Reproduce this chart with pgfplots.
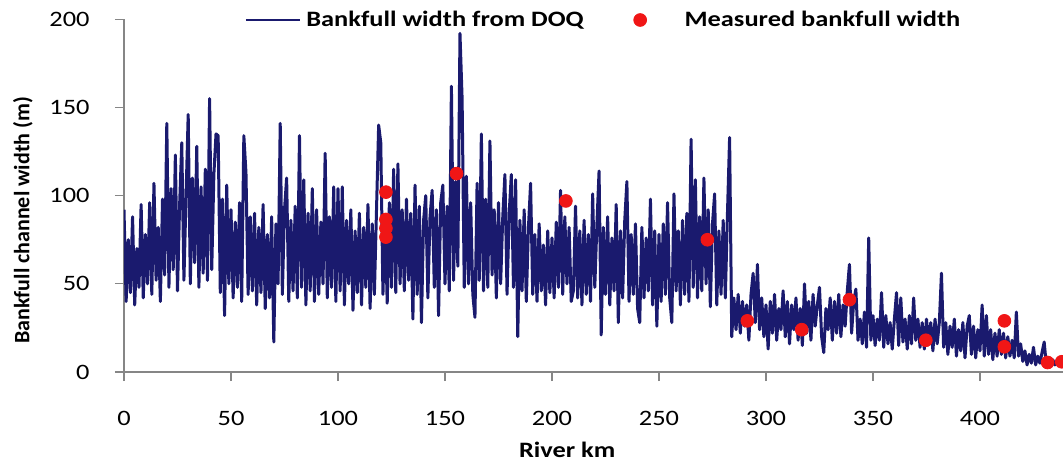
\documentclass[border=0pt]{standalone}
\usepackage{pgfplots}
\pgfplotsset{compat=1.18}
\usepackage{fontspec}
\setmainfont{Carlito}[FakeStretch=1.2]
\newfontfamily\ylabfont{Carlito}
\definecolor{navy}{RGB}{26,26,110}
\definecolor{dotred}{RGB}{240,22,22}
\definecolor{axgray}{RGB}{134,134,134}
\pgfplotsset{
  linelegend/.style={legend image code/.code={\draw[##1, line width=1.4pt] (0pt,0pt) -- (27pt,0pt);}},
  dotlegend/.style={legend image code/.code={\path (0pt,0pt) (27pt,0pt); \draw[##1] plot coordinates {(7.5pt,0pt)};}},
}
\begin{document}
\begin{tikzpicture}
\begin{axis}[
  scale only axis, width=469.5pt, height=176.35pt,
  xmin=0, xmax=438.8, ymin=0, ymax=200,
  axis x line=bottom, axis y line=left,
  axis line style={draw=axgray, line width=0.6pt, -},
  xtick={0,50,...,400}, ytick={0,50,...,200},
  tick align=outside, major tick length=4.5pt,
  tick style={draw=axgray, line width=0.6pt},
  /pgf/number format/assume math mode=true,
  ticklabel style={font=\fontsize{11}{13}\selectfont, inner sep=0pt},
  xticklabel style={anchor=north, yshift=-15pt},
  yticklabel style={anchor=east, xshift=-12.5pt},
  xlabel={River km}, ylabel={Bankfull channel width (m)},
  xlabel style={font=\bfseries\fontsize{11}{13}\selectfont, at={(rel axis cs:0.472,0)}, anchor=north, yshift=-35pt, inner sep=0pt},
  ylabel style={font=\ylabfont\bfseries\fontsize{11}{13}\selectfont, at={(rel axis cs:-0.1076,0.43)}, anchor=center, inner sep=0pt},
  clip mode=individual,
  legend columns=-1,
  legend style={draw=none, fill=none, inner sep=0pt, column sep=0pt,
    font=\bfseries\fontsize{11}{13}\selectfont,
    nodes={inner sep=0pt, text depth=0.15em},
    /tikz/every odd column/.append style={column sep=2.5pt},
    /tikz/every even column/.append style={column sep=20.5pt},
    at={(rel axis cs:0.128,0.998)}, anchor=west},
]
\coordinate (O) at (rel axis cs:0,0);
\addplot[navy, line width=1.5pt, line join=round, mark=none, linelegend]
coordinates {
(0,92)(1,40)(2,75)(3,45)(4,88)(5,38)(6,70)(7,48)(8,95)(9,42)
(10,78)(11,50)(12,96)(13,44)(14,107)(15,52)(16,82)(17,40)(18,98)(19,55)
(20,141)(21,48)(22,104)(23,58)(24,123)(25,46)(26,95)(27,130)(28,52)(29,100)
(30,146)(31,50)(32,110)(33,62)(34,128)(35,48)(36,105)(37,56)(38,115)(39,52)
(40,155)(41,58)(42,112)(43,135)(44,134)(45,45)(46,98)(47,32)(48,106)(49,50)
(50,92)(51,42)(52,85)(53,48)(54,96)(55,40)(56,134)(57,113)(58,44)(59,88)
(60,46)(61,90)(62,38)(63,82)(64,45)(65,95)(66,36)(67,78)(68,42)(69,88)
(70,17)(71,84)(72,50)(73,141)(74,44)(75,92)(76,110)(77,40)(78,86)(79,46)
(80,94)(81,42)(82,134)(83,48)(84,109)(85,38)(86,90)(87,46)(88,104)(89,40)
(90,92)(91,44)(92,85)(93,50)(94,124)(95,42)(96,88)(97,48)(98,105)(99,40)
(100,104)(101,46)(102,105)(103,38)(104,86)(105,50)(106,92)(107,35)(108,80)(109,45)
(110,90)(111,38)(112,82)(113,48)(114,95)(115,36)(116,84)(117,44)(118,92)(119,140)
(120,130)(121,44)(122,88)(123,39)(124,96)(125,48)(126,115)(127,45)(128,118)(129,50)
(130,92)(131,46)(132,98)(133,52)(134,90)(135,30)(136,106)(137,44)(138,94)(139,28)
(140,86)(141,100)(142,42)(143,88)(144,103)(145,48)(146,92)(147,32)(148,96)(149,106)
(150,50)(151,94)(152,46)(153,162)(154,52)(155,108)(156,60)(157,192)(158,155)(159,48)
(160,111)(161,50)(162,96)(163,44)(164,31)(165,107)(166,52)(167,135)(168,46)(169,98)
(170,48)(171,131)(172,55)(173,92)(174,42)(175,96)(176,50)(177,88)(178,112)(179,44)
(180,90)(181,112)(182,48)(183,109)(184,20)(185,86)(186,46)(187,92)(188,40)(189,82)
(190,107)(191,44)(192,78)(193,40)(194,84)(195,46)(196,72)(197,38)(198,80)(199,45)
(200,76)(201,42)(202,85)(203,48)(204,103)(205,44)(206,88)(207,50)(208,82)(209,40)
(210,46)(211,94)(212,42)(213,80)(214,38)(215,86)(216,44)(217,78)(218,40)(219,101)
(220,48)(221,84)(222,114)(223,21)(224,82)(225,44)(226,88)(227,38)(228,76)(229,46)
(230,95)(231,28)(232,80)(233,42)(234,86)(235,108)(236,40)(237,78)(238,44)(239,84)
(240,36)(241,28)(242,82)(243,42)(244,76)(245,46)(246,98)(247,38)(248,80)(249,26)
(250,78)(251,40)(252,84)(253,44)(254,96)(255,42)(256,28)(257,101)(258,46)(259,80)
(260,38)(261,86)(262,44)(263,90)(264,40)(265,132)(266,48)(267,109)(268,42)(269,88)
(270,46)(271,110)(272,50)(273,92)(274,37)(275,84)(276,101)(277,38)(278,80)(279,44)
(280,86)(281,42)(282,90)(283,133)
(284,20)(285,42)(286,24)(287,44)(288,22)(289,40)(290,26)(291,38)(292,18)(293,44)
(294,56)(295,28)(296,61)(297,24)(298,42)(299,20)(300,38)(301,13)(302,40)(303,22)
(304,44)(305,18)(306,36)(307,24)(308,46)(309,20)(310,40)(311,16)(312,38)(313,24)
(314,42)(315,18)(316,36)(317,15)(318,50)(319,22)(320,40)(321,18)(322,44)(323,26)
(324,38)(325,48)(326,20)(327,11)(328,36)(329,24)(330,42)(331,18)(332,40)(333,22)
(334,44)(335,20)(336,38)(337,26)(338,46)(339,61)(340,22)(341,40)(342,47)(343,18)
(344,30)(345,16)(346,34)(347,14)(348,76)(349,18)(350,32)(351,15)(352,30)(353,18)
(354,45)(355,14)(356,32)(357,16)(358,28)(359,13)(360,30)(361,45)(362,15)(363,42)
(364,17)(365,30)(366,13)(367,32)(368,16)(369,42)(370,18)(371,30)(372,14)(373,28)
(374,13)(375,30)(376,16)(377,28)(378,12)(379,30)(380,16)(381,28)(382,56)(383,14)
(384,28)(385,10)(386,26)(387,14)(388,30)(389,9)(390,24)(391,12)(392,28)(393,8)
(394,26)(395,32)(396,10)(397,26)(398,8)(399,24)(400,12)(401,38)(402,9)(403,32)
(404,10)(405,24)(406,7)(407,22)(408,9)(409,24)
(410,10)(411,22)(412,8)(413,20)(414,9)(415,18)(416,8)(417,34)(418,9)(419,16)
(420,6)(421,12)(422,4)(423,10)(424,5)(425,14)(426,4)(427,9)(428,5)(429,11)
(430,17)(431,4)(432,8)(433,3)(434,7)(435,4)(436,6)(437,3)
};
\addlegendentry{Bankfull width from DOQ}
\addplot[only marks, mark=*, mark size=3.2pt, color=dotred,
  mark options={draw=dotred, fill=dotred}, dotlegend]
coordinates {
(122.4,102)(122.4,86.5)(122.4,81.5)(122.4,76.5)(155.4,112.5)(206.5,97)
(272.6,75)(291.3,29)(316.7,24)(339,41)(374.7,18)(411.4,29)(411.4,14.3)
(431.6,5.4)(438.2,5.8)
};
\addlegendentry{Measured bankfull width}
\end{axis}
\pgfresetboundingbox
\path[use as bounding box] ([xshift=-62pt,yshift=-49pt]O) rectangle ([xshift=469.5pt,yshift=186pt]O);
\end{tikzpicture}
\end{document}
